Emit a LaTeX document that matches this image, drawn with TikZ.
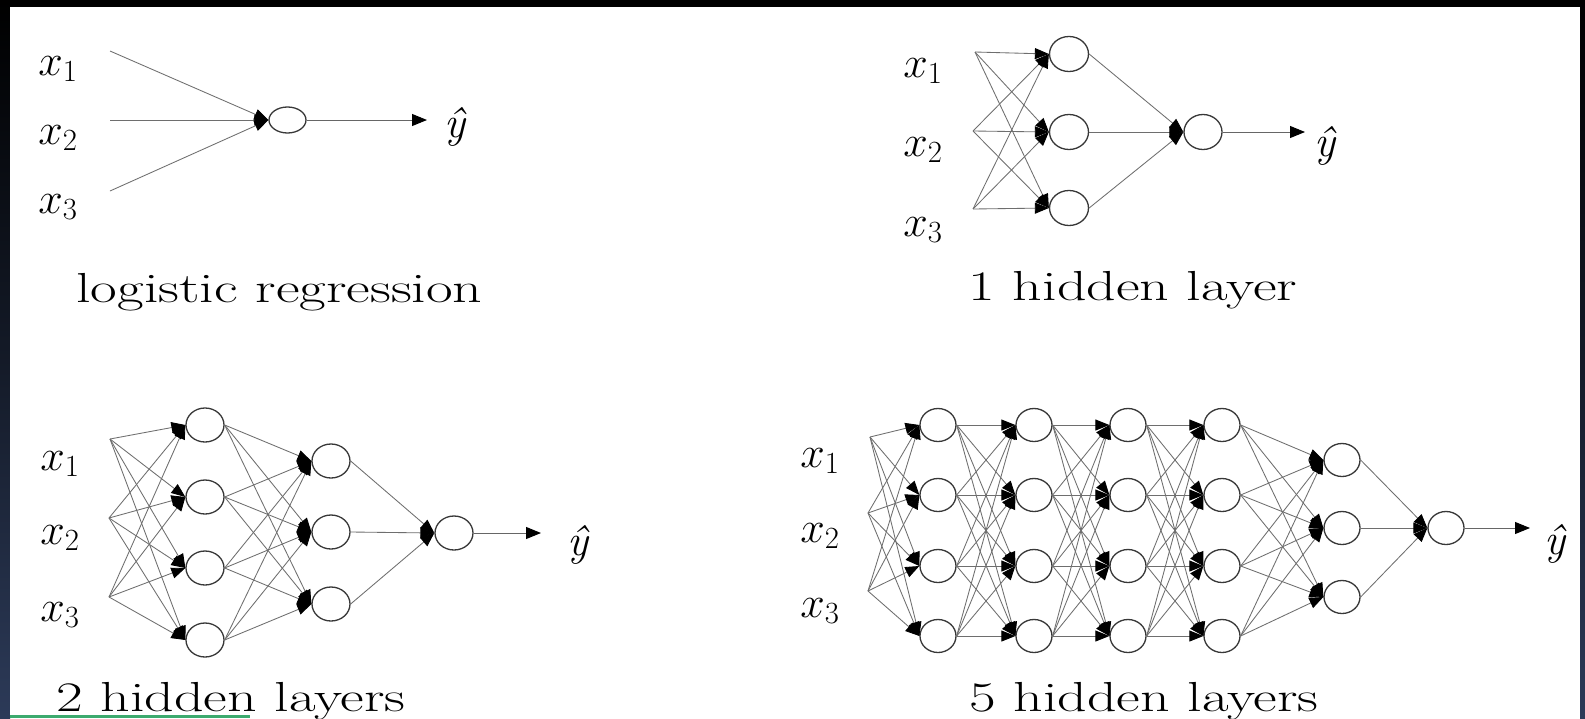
\RequirePackage{fix-cm}
\documentclass[tikz,border=0pt]{standalone}
\usepackage{fontspec}
\usepackage{graphicx}
\usetikzlibrary{arrows.meta,shapes.geometric}
\definecolor{edgegray}{RGB}{110,110,110}
\definecolor{navyedge}{RGB}{44,58,88}
\definecolor{bargreen}{RGB}{60,170,110}
\tikzset{
  neuron/.style={ellipse, draw=black!78, line width=1.3pt, fill=white,
    minimum width=38pt, minimum height=34pt, inner sep=0pt},
  wire/.style={draw=edgegray, line width=0.85pt,
    -{Triangle[length=14pt,width=11pt,color=black]}},
  outwire/.style={draw=black!60, line width=1pt,
    -{Triangle[length=15pt,width=12pt,color=black]}},
  lbl/.style={inner sep=0pt, font=\fontsize{44}{50}\selectfont},
  yhat/.style={inner sep=0pt, font=\fontsize{44}{50}\selectfont\itshape},
  captxt/.style={inner sep=0pt, anchor=base, font=\fontsize{42}{50}\selectfont},
}
\newcommand{\captext}[1]{\scalebox{1.38}[1]{#1}}
\begin{document}
\begin{tikzpicture}[x=1pt,y=-1pt]
\useasboundingbox (0,0) rectangle (1585,718);
% frame
\fill[black] (0,0) rectangle (1585,718);
\shade[top color=black, bottom color=navyedge, middle color=black!55!navyedge] (0,0) rectangle (10,718);
\shade[top color=black, bottom color=navyedge, middle color=black!55!navyedge] (1580,0) rectangle (1585,718);
\fill[white] (10,7) rectangle (1580,718);
\fill[bargreen] (10,715) rectangle (250,718);

% ---------- Panel 1: logistic regression ----------
\node[lbl] (px1) at (58,69) {$x_1$};
\node[lbl] (px2) at (58,138) {$x_2$};
\node[lbl] (px3) at (58,207) {$x_3$};
\coordinate (pa1) at (110,51);
\coordinate (pa2) at (110,120);
\coordinate (pa3) at (110,191);
\node[neuron, minimum width=37pt, minimum height=26pt] (po) at (287.5,120) {};
\foreach \i in {1,2,3} \draw[wire] (pa\i) -- (po.west);
\coordinate (pt) at (427,120);
\draw[outwire] (po) -- (pt);
\node[yhat] (py) at (455,127) {ŷ};
\node[captxt] (pc) at (279.5,302) {\captext{logistic regression}};

% ---------- Panel 2: 1 hidden layer ----------
\node[lbl] (qx1) at (923,71) {$x_1$};
\node[lbl] (qx2) at (923,150) {$x_2$};
\node[lbl] (qx3) at (923,230) {$x_3$};
\coordinate (qa1) at (975,52);
\coordinate (qa2) at (973,131);
\coordinate (qa3) at (973,209);
\foreach \i/\y in {1/54,2/132,3/208} \node[neuron, minimum width=39pt, minimum height=35pt] (qh\i) at (1069,\y) {};
\node[neuron, minimum width=38pt, minimum height=35pt] (qo) at (1203,132) {};
\foreach \i in {1,2,3} \foreach \j in {1,2,3} \draw[wire] (qa\i) -- (qh\j.west);
\foreach \j in {1,2,3} \draw[wire] (qh\j.east) -- (qo.west);
\coordinate (qt) at (1305,132);
\draw[outwire] (qo) -- (qt);
\node[yhat] (qy) at (1325,146) {ŷ};
\node[captxt] (qc) at (1133,300) {\captext{1 hidden layer}};

% ---------- Panel 3: 2 hidden layers ----------
\node[lbl] (rx1) at (60,464) {$x_1$};
\node[lbl] (rx2) at (60,538) {$x_2$};
\node[lbl] (rx3) at (60,615) {$x_3$};
\coordinate (ra1) at (110,439);
\coordinate (ra2) at (109,518);
\coordinate (ra3) at (109,597);
\foreach \i/\y in {1/425,2/497,3/568,4/640} \node[neuron] (rA\i) at (205,\y) {};
\foreach \i/\y in {1/461,2/532,3/604} \node[neuron] (rB\i) at (331,\y) {};
\node[neuron] (ro) at (454,533) {};
\foreach \i in {1,2,3} \foreach \j in {1,...,4} \draw[wire] (ra\i) -- (rA\j.west);
\foreach \i in {1,...,4} \foreach \j in {1,2,3} \draw[wire] (rA\i.east) -- (rB\j.west);
\foreach \j in {1,2,3} \draw[wire] (rB\j.east) -- (ro.west);
\coordinate (rt) at (541,533);
\draw[outwire] (ro) -- (rt);
\node[yhat] (ry) at (578,545) {ŷ};
\node[captxt] (rc) at (231,711) {\captext{2 hidden layers}};

% ---------- Panel 4: 5 hidden layers ----------
\node[lbl] (sx1) at (820,461) {$x_1$};
\node[lbl] (sx2) at (820,536) {$x_2$};
\node[lbl] (sx3) at (820,611) {$x_3$};
\coordinate (sa1) at (870,437);
\coordinate (sa2) at (868,513);
\coordinate (sa3) at (868,591);
\foreach \l/\x in {1/938,2/1034,3/1128,4/1222}
  \foreach \i/\y in {1/425,2/495,3/566,4/636}
    \node[neuron, minimum width=36pt, minimum height=33pt] (s\l-\i) at (\x,\y) {};
\foreach \i/\y in {1/460,2/528,3/597} \node[neuron, minimum width=36pt, minimum height=33pt] (s5-\i) at (1342,\y) {};
\node[neuron, minimum width=36pt, minimum height=33pt] (so) at (1446,528) {};
\foreach \i in {1,2,3} \foreach \j in {1,...,4} \draw[wire] (sa\i) -- (s1-\j.west);
\foreach \l/\m in {1/2,2/3,3/4}
  \foreach \i in {1,...,4} \foreach \j in {1,...,4}
    \draw[wire] (s\l-\i.east) -- (s\m-\j.west);
\foreach \i in {1,...,4} \foreach \j in {1,2,3} \draw[wire] (s4-\i.east) -- (s5-\j.west);
\foreach \j in {1,2,3} \draw[wire] (s5-\j.east) -- (so.west);
\coordinate (st) at (1530,528);
\draw[outwire] (so) -- (st);
\node[yhat] (sy) at (1555,544) {ŷ};
\node[captxt] (sc) at (1144,711) {\captext{5 hidden layers}};
\end{tikzpicture}
\end{document}
